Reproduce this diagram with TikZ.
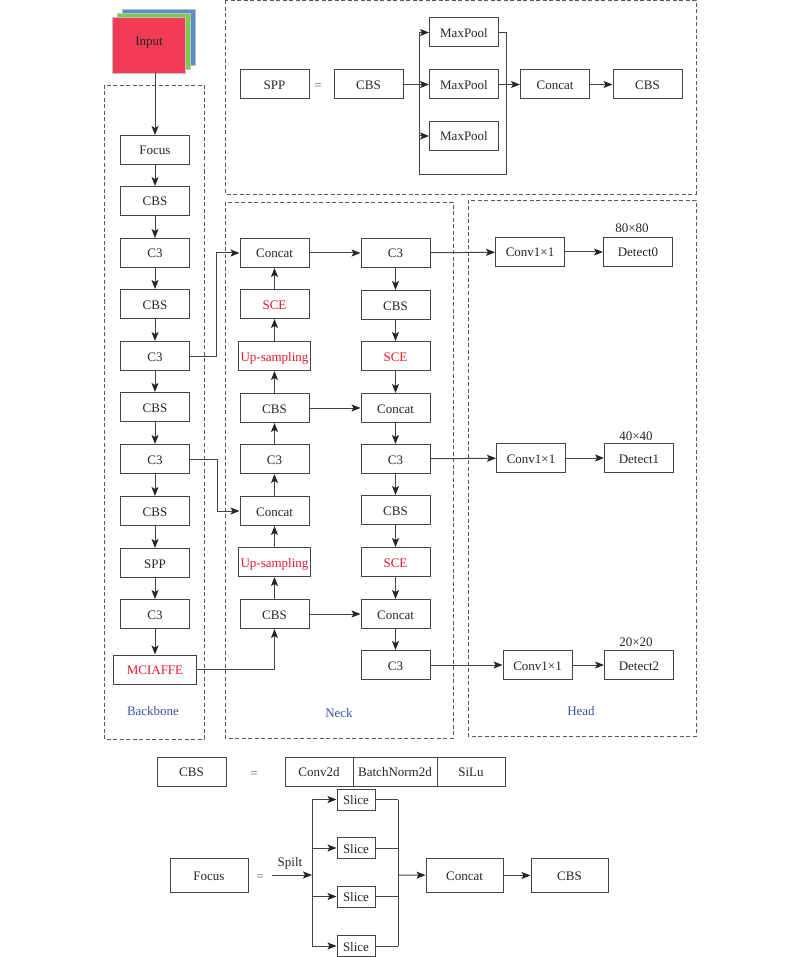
\documentclass[tikz,border=0pt]{standalone}
\usepackage{fontspec}
\setmainfont{Liberation Serif}
\usepackage{xcolor}
\usetikzlibrary{arrows.meta}
\definecolor{inred}{HTML}{F23B55}
\definecolor{ingreen}{HTML}{7CCB4B}
\definecolor{inblue}{HTML}{5B8FCB}
\definecolor{linegray}{HTML}{444444}
\definecolor{newred}{HTML}{E8192C}
\definecolor{partblue}{HTML}{3A53A4}
\tikzstyle{block}=[draw=linegray,line width=1pt,fill=white,minimum width=69pt,minimum height=29pt,inner sep=0pt,text height=10pt,text depth=0pt]
\tikzstyle{sheet}=[block,draw=black!25,line width=.5pt,minimum width=73pt,minimum height=56pt]
\tikzstyle{part}=[draw=black!65,line width=.9pt,dash pattern=on 4pt off 2.5pt]
\tikzstyle{flow}=[draw=linegray,line width=1pt,->]
\tikzstyle{wire}=[draw=linegray,line width=1pt]
\tikzstyle{bare}=[inner sep=0pt,text height=10pt,text depth=0pt]
\begin{document}
\begin{tikzpicture}[x=1pt,y=-1pt,>={Stealth[length=9pt,width=7pt,inset=2pt,color=black!85]},
    every node/.style={font=\fontsize{13}{15}\selectfont,text=black!85}]
  \useasboundingbox (0,0) rectangle (800,957);

  % dashed parts
  \draw[part] (104,85) rectangle (204,739);
  \draw[part] (225,0.5) rectangle (696,194);
  \draw[part] (225,202) rectangle (453,738);
  \draw[part] (468,200) rectangle (696,736);
  \node[bare,text=partblue] (lbackbone) at (153,710) {Backbone};
  \node[bare,text=partblue] (lneck) at (339,712) {Neck};
  \node[bare,text=partblue] (lhead) at (581,710) {Head};

  % input
  \node[sheet,fill=inblue] (inputb) at (158.5,37) {};
  \node[sheet,fill=ingreen] (inputg) at (153.5,41) {};
  \node[sheet,fill=inred] (input) at (148.5,45) {};
  \node[bare] (inputt) at (149,41) {Input};

  % backbone
  \foreach \i/\y/\t in {1/150/Focus,2/201/CBS,3/253/C3,4/304/CBS,5/356/C3,6/407/CBS,7/459/C3,8/511/CBS,9/563/SPP,10/614/C3}{
    \node[block] (a\i) at (155,\y) {\t};
  }
  \node[block,minimum width=83pt,text=newred] (a11) at (155,669.5) {MCIAFFE};
  \draw[flow] (a1.north |- input.south) -- (a1);
  \foreach \i/\j in {1/2,2/3,3/4,4/5,5/6,6/7,7/8,8/9,9/10,10/11}{
    \draw[flow] (a\i) -- (a\j);
  }

  % neck
  \foreach \i/\y/\t in {1/253/Concat,4/408/CBS,5/459/C3,6/511/Concat,8/614/CBS}{
    \node[block] (n\i) at (274.5,\y) {\t};
  }
  \node[block,text=newred] (n2) at (274.5,304) {SCE};
  \node[block,minimum width=72pt,text=newred] (n3) at (274.5,356) {Up-sampling};
  \node[block,minimum width=72pt,text=newred] (n7) at (274.5,562) {Up-sampling};
  \foreach \i/\y/\t in {1/253/C3,2/305/CBS,4/408/Concat,5/459/C3,6/510/CBS,8/614/Concat,9/665/C3}{
    \node[block] (r\i) at (395.5,\y) {\t};
  }
  \node[block,text=newred] (r3) at (395.5,356) {SCE};
  \node[block,text=newred] (r7) at (395.5,562) {SCE};
  \foreach \i/\j in {8/7,7/6,6/5,5/4,4/3,3/2,2/1}{
    \draw[flow] (n\i) -- (n\j);
  }
  \foreach \i/\j in {1/2,2/3,3/4,4/5,5/6,6/7,7/8,8/9}{
    \draw[flow] (r\i) -- (r\j);
  }
  \draw[flow] (n1) -- (r1);
  \draw[flow] (n4) -- (r4);
  \draw[flow] (n8) -- (r8);
  \draw[flow] (a5.east) -- (216,356) -- (216,253) -- (n1.west);
  \draw[flow] (a7.east) -- (217,459) -- (217,511) -- (n6.west);
  \draw[flow] (a11.east) -| (n8.south);

  % head
  \node[block] (c0) at (530,252) {Conv1×1};
  \node[block] (d0) at (638,252) {Detect0};
  \node[block] (c1) at (531,458) {Conv1×1};
  \node[block] (d1) at (639,458) {Detect1};
  \node[block] (c2) at (537.5,665) {Conv1×1};
  \node[block] (d2) at (639,665) {Detect2};
  \node[bare] (s0) at (632,228) {80×80};
  \node[bare] (s1) at (636,435) {40×40};
  \node[bare] (s2) at (636,641) {20×20};
  \draw[flow] (r1) -- (c0);
  \draw[flow] (r5) -- (c1);
  \draw[flow] (r9) -- (c2);
  \foreach \i in {0,1,2}{
    \draw[flow] (c\i) -- (d\i);
  }

  % spp
  \node[block] (spp) at (274.5,84.5) {SPP};
  \node[bare,text=black!60] (sppeq) at (318,85) {=};
  \node[block] (spp1) at (368.5,84.5) {CBS};
  \foreach \i/\y in {1/32.5,2/84.5,3/136}{
    \node[block] (m\i) at (464,\y) {MaxPool};
  }
  \node[block] (spp2) at (555,84.5) {Concat};
  \node[block] (spp3) at (647.5,84.5) {CBS};
  \draw[flow] (spp1) -- (m2);
  \draw[flow] (419,84.5) |- (m1.west);
  \draw[flow] (419,84.5) |- (m3.west);
  \draw[wire] (419,136) -- (419,175) -- (506,175) -- (506,84.5);
  \draw[wire] (m1.east) -- (506,32.5) -- (506,84.5);
  \draw[flow] (m2) -- (spp2);
  \draw[flow] (spp2) -- (spp3);

  % cbs
  \node[block] (cbs) at (191.5,771.5) {CBS};
  \node[bare,text=black!60] (cbseq) at (254,772) {=};
  \node[block,minimum width=68pt] (conv) at (319,771.5) {Conv2d};
  \node[block,minimum width=84pt] (bn) at (395,771.5) {BatchNorm2d};
  \node[block,minimum width=68pt] (silu) at (471,771.5) {SiLu};

  % focus
  \node[block,minimum width=78pt,minimum height=34pt] (focus) at (209,875.5) {Focus};
  \node[bare,text=black!60] (foceq) at (260,875) {=};
  \node[bare] (spilt) at (290,861) {Spilt};
  \coordinate (sp0) at (272,875);
  \coordinate (sp1) at (312,875);
  \coordinate (sp2) at (398,875);
  \foreach \i/\y in {1/799.5,2/848,3/896.5,4/946}{
    \node[block,minimum width=38pt,minimum height=21pt] (sl\i) at (356,\y) {Slice};
    \draw[flow] (sp1 |- sl\i) -- (sl\i);
    \draw[wire] (sl\i) -- (sp2 |- sl\i);
  }
  \draw[wire] (sp1 |- sl1) -- (sp1 |- sl4);
  \draw[wire] (sp2 |- sl1) -- (sp2 |- sl4);
  \draw[flow] (sp0) -- (sp1);
  \node[block,minimum width=77pt,minimum height=34pt] (foc1) at (464.5,875.5) {Concat};
  \node[block,minimum width=77pt,minimum height=34pt] (foc2) at (569.5,875.5) {CBS};
  \draw[flow] (sp2) -- (foc1);
  \draw[flow] (foc1) -- (foc2);
\end{tikzpicture}
\end{document}
